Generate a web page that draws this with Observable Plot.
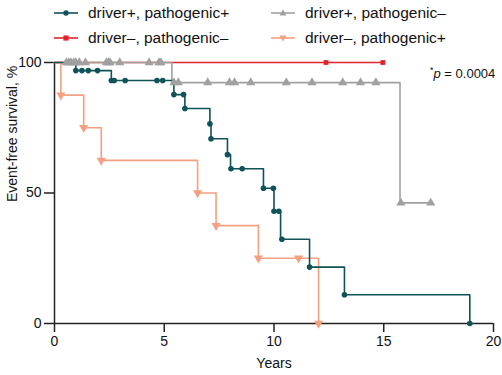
<!DOCTYPE html>
<html><head><meta charset="utf-8">
<script src="https://cdn.jsdelivr.net/npm/d3@7"></script>
<script src="https://cdn.jsdelivr.net/npm/@observablehq/plot@0.6"></script>
<style>
body{margin:0;background:#fff;font-family:"Liberation Sans",Arial,sans-serif;}
#wrap{position:relative;width:502px;height:375px;overflow:hidden}
.leg{position:absolute;font-size:15.5px;color:#111;display:flex;align-items:center;white-space:nowrap;height:20px}
.leg svg{margin-right:10px}
#pval{position:absolute;left:430px;top:65px;font-size:13px;color:#111}
#pval sup{font-size:9px;vertical-align:5px}
#chart{position:absolute;left:0;top:50px}
</style></head><body>
<div id="wrap"><div id="legend"></div><div id="chart"></div><div id="pval"><sup>*</sup><i>p</i> = 0.0004</div></div>
<script>
const groups = ["driver+, pathogenic+", "driver\u2013, pathogenic\u2013", "driver+, pathogenic\u2013", "driver\u2013, pathogenic+"];
const colors = ["#0f5257", "#e2232b", "#a0a0a0", "#f4a081"];
const symbols = ["circle", "square", "triangle", "triangle-down"];

// driver+, pathogenic+
const tealTimes = [0, 0.97, 2.59, 5.44, 5.94, 7.08, 7.13, 7.88, 8.02, 9.52, 10.0, 10.3, 11.62, 13.21, 18.92];
const tealSurv  = [100, 96.9, 93.1, 87.7, 82.4, 76.5, 70.8, 64.7, 59.3, 51.8, 43.0, 32.3, 21.6, 11.0, 0];
const tealMarks = [0.97, 1.25, 1.54, 1.96, 2.59, 2.72, 3.22, 4.67, 4.93, 5.44, 5.88, 5.94, 7.08, 7.13, 7.88, 8.04, 8.55, 9.52, 9.97, 10.0, 10.22, 10.36, 11.62, 13.21, 18.92];

// driver-, pathogenic-
const redTimes = [0, 15.0];
const redSurv  = [100, 100];
const redMarks = [12.37, 14.96];

// driver+, pathogenic-
const grayTimes = [0, 5.35, 15.74, 17.14];
const graySurv  = [100, 92.3, 46.2, 46.2];
const grayMarks = [0.54, 0.65, 0.75, 0.88, 0.97, 1.13, 1.41, 2.36, 2.46, 2.53, 2.97, 4.31, 4.76, 4.85,
                   5.44, 5.64, 6.98, 7.97, 8.2, 8.94, 10.56, 11.73, 13.13, 13.94, 14.64, 15.78, 17.14];

// driver-, pathogenic+
const salmonTimes = [0, 0.29, 1.33, 2.13, 6.52, 7.36, 9.29, 12.03];
const salmonSurv  = [100, 87.5, 75, 62.5, 50, 37.5, 25, 0];
const salmonMarks = [0.29, 1.33, 2.13, 6.52, 7.36, 9.29, 11.12, 12.03];

const xTicks = [0, 5, 10, 15, 20];
const yTicks = [0, 50, 100];
const xLabel = "Years";
const yLabel = "Event-free survival, %";

const series = [
  {g: groups[0], times: tealTimes, surv: tealSurv, marks: tealMarks},
  {g: groups[1], times: redTimes, surv: redSurv, marks: redMarks},
  {g: groups[2], times: grayTimes, surv: graySurv, marks: grayMarks},
  {g: groups[3], times: salmonTimes, surv: salmonSurv, marks: salmonMarks}
];
const stepAt = (s, t) => { let v = s.surv[0]; s.times.forEach((ti, i) => { if (ti <= t + 1e-9) v = s.surv[i]; }); return v; };
const lineData = {}, markData = {};
series.forEach(s => {
  lineData[s.g] = s.times.map((t, i) => ({t, s: s.surv[i], g: s.g}));
  markData[s.g] = s.marks.map(t => ({t, s: stepAt(s, t), g: s.g}));
});

const drawOrder = [groups[1], groups[2], groups[3], groups[0]];
const marks = [];
drawOrder.forEach(g => {
  const i = groups.indexOf(g);
  marks.push(Plot.line(lineData[g], {x: "t", y: "s", curve: "step-after", stroke: colors[i], strokeWidth: 1.6}));
});
drawOrder.forEach(g => {
  const i = groups.indexOf(g);
  const sym = symbols[i];
  const opts = {x: "t", y: "s", fill: colors[i], stroke: "none"};
  if (sym === "circle") Object.assign(opts, {symbol: "circle", r: 2.8});
  if (sym === "square") Object.assign(opts, {symbol: "square", r: 2.7});
  if (sym === "triangle") Object.assign(opts, {symbol: "triangle", r: 3.4});
  if (sym === "triangle-down") Object.assign(opts, {symbol: "triangle", r: 3.4, rotate: 180});
  marks.push(Plot.dot(markData[g], opts));
});

const chart = Plot.plot({
  width: 502, height: 325,
  marginLeft: 54, marginRight: 9, marginTop: 12, marginBottom: 52,
  style: {fontFamily: "Liberation Sans, Arial, sans-serif", fontSize: "13.5px", color: "#111", background: "white"},
  x: {domain: [0, 20]},
  y: {domain: [0, 100]},
  marks: [
    Plot.axisX({ticks: xTicks, tickSize: 9, tickPadding: 4, label: xLabel, labelAnchor: "center", labelArrow: "none", labelOffset: 44, stroke: "#222", strokeWidth: 1.5, fontSize: 14}),
    Plot.axisY({ticks: yTicks, tickSize: 10, tickPadding: 3, label: null, stroke: "#222", strokeWidth: 1.5, fontSize: 14}),
    Plot.text([yLabel], {frameAnchor: "left", text: d => d, rotate: -90, dx: -42, dy: 9, fontSize: 14, fill: "#111"}),
    Plot.ruleX([0], {y1: 0, y2: 100, stroke: "#222", strokeWidth: 1.5}),
    Plot.ruleY([0], {x1: 0, x2: 20, stroke: "#222", strokeWidth: 1.5}),
    ...marks
  ]
});
document.getElementById("chart").appendChild(chart);

// legend
const legPos = [[54, 3], [54, 28], [271, 3], [271, 28]];
const leg = document.getElementById("legend");
groups.forEach((g, i) => {
  const d = document.createElement("div");
  d.className = "leg";
  d.style.left = legPos[i][0] + "px";
  d.style.top = legPos[i][1] + "px";
  let shape = "";
  const c = colors[i];
  if (symbols[i] === "circle") shape = `<circle cx="12" cy="6" r="2.7" fill="${c}"/>`;
  if (symbols[i] === "square") shape = `<rect x="9.4" y="3.4" width="5.2" height="5.2" fill="${c}"/>`;
  if (symbols[i] === "triangle") shape = `<path d="M12,2.5 L15.5,8.5 L8.5,8.5 Z" fill="${c}"/>`;
  if (symbols[i] === "triangle-down") shape = `<path d="M12,9.5 L15.5,3.5 L8.5,3.5 Z" fill="${c}"/>`;
  d.innerHTML = `<svg width="24" height="12"><line x1="0" x2="24" y1="6" y2="6" stroke="${c}" stroke-width="1.6"/>${shape}</svg><span>${g}</span>`;
  leg.appendChild(d);
});
</script>
</body></html>
